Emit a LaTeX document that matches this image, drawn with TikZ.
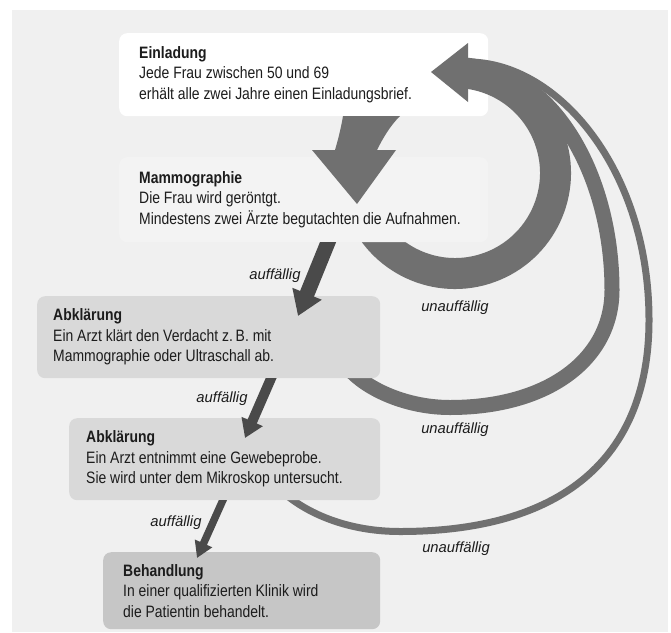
\documentclass[tikz,border=0pt]{standalone}
\usepackage{fontspec}
\setmainfont{Liberation Sans}[FakeStretch=0.845]
\newfontfamily\lblfont{Liberation Sans}
\usetikzlibrary{arrows.meta,calc}
\definecolor{bgc}{HTML}{F0F0F0}
\definecolor{arrc}{HTML}{707070}
\definecolor{darkc}{HTML}{4A4A4A}
\definecolor{abkc}{HTML}{D9D9D9}
\definecolor{behc}{HTML}{C6C6C6}
\definecolor{mamc}{HTML}{F3F3F3}
\definecolor{txtc}{HTML}{1C1C1C}
\begin{document}
\begin{tikzpicture}[x=1pt,y=-1pt,
  boxshape/.style={anchor=north west, rounded corners=8pt, inner sep=0pt},
  boxtext/.style={anchor=west, inner sep=0pt, align=left,
    font=\fontsize{16.5}{20.5}\selectfont, text=txtc},
  lbl/.style={font=\lblfont\itshape\fontsize{14.8}{16}\selectfont, text=txtc, inner sep=0pt},
  loopline/.style={draw=arrc},
  yesarrow/.style={draw=darkc}]
\useasboundingbox (0,0) rectangle (671,632);
\fill[white] (0,0) rectangle (671,632);
\fill[bgc] (12,10) rectangle (668,632);

% Einladung box
\node[boxshape, fill=white, minimum width=369pt, minimum height=83pt] (einl) at (119,33) {};
\node[boxtext] (einlT) at ($(einl.west)+(20,0)$) {\textbf{Einladung}\\Jede Frau zwischen 50 und 69\\erhält alle zwei Jahre einen Einladungsbrief.};

% return loops (unauffaellig)
\coordinate (lc) at (455,173);
\coordinate (tip) at (431,72);
\draw[loopline, line width=31pt] ($(lc)+(160:100.5)$) arc[start angle=160, end angle=-84, radius=100.5];
\draw[loopline, line width=15pt] (468,68) .. controls (548,68) and (612,170) .. (612,290)
  .. controls (612,360) and (547,407.5) .. (450,407.5) .. controls (410,407.5) and (372,392) .. (352,372);
\draw[loopline, line width=7pt] (468,62) .. controls (558,62) and (649,170) .. (649,320)
  .. controls (649,460) and (560,531.5) .. (400,531.5) .. controls (350,531.5) and (310,515) .. (285,494);
\fill[arrc] (tip) -- (468,43) -- (468,102) -- cycle;

% other boxes
\node[boxshape, fill=mamc, minimum width=369pt, minimum height=85pt] (mammo) at (119,157) {};
\node[boxtext] (mammoT) at ($(mammo.west)+(20,0)$) {\textbf{Mammographie}\\Die Frau wird geröntgt.\\Mindestens zwei Ärzte begutachten die Aufnahmen.};
\node[boxshape, fill=abkc, minimum width=343pt, minimum height=82pt] (abk1) at (37,296) {};
\node[boxtext] (abk1T) at ($(abk1.west)+(16,0)$) {\textbf{Abklärung}\\Ein Arzt klärt den Verdacht z.\,B. mit\\Mammographie oder Ultraschall ab.};
\node[boxshape, fill=abkc, minimum width=311pt, minimum height=82pt] (abk2) at (69,418) {};
\node[boxtext] (abk2T) at ($(abk2.west)+(17,0)$) {\textbf{Abklärung}\\Ein Arzt entnimmt eine Gewebeprobe.\\Sie wird unter dem Mikroskop untersucht.};
\node[boxshape, fill=behc, minimum width=277pt, minimum height=77pt] (beh) at (103,552) {};
\node[boxtext] (behT) at ($(beh.west)+(20,0)$) {\textbf{Behandlung}\\In einer qualifizierten Klinik wird\\die Patientin behandelt.};

% big arrow Einladung -> Mammographie
\fill[arrc] (343,116) .. controls (341,128) and (338,140) .. (335,150) -- (312,150) -- (357,204)
  -- (396,150) -- (377,150) .. controls (383,138) and (390,126) .. (400,116) -- cycle;

% auffaellig arrows
\coordinate (a1s) at (335,225); \coordinate (a1e) at (298,316);
\coordinate (a2s) at (279,360); \coordinate (a2e) at (245,438);
\coordinate (a3s) at (231,482); \coordinate (a3e) at (197,558);
\begin{scope}
  \clip (mammo.south west) rectangle (671,632);
  \draw[yesarrow, line width=15pt, -{Triangle[length=24pt,width=30pt]}] (a1s) -- (a1e);
\end{scope}
\begin{scope}
  \clip (abk1.south west) rectangle (671,632);
  \draw[yesarrow, line width=10pt, -{Triangle[length=18pt,width=22pt]}] (a2s) -- (a2e);
\end{scope}
\begin{scope}
  \clip (abk2.south west) rectangle (671,632);
  \draw[yesarrow, line width=7.5pt, -{Triangle[length=16pt,width=18pt]}] (a3s) -- (a3e);
\end{scope}

% labels
\node[lbl] (y1) at (275,276) {auffällig};
\node[lbl] (y2) at (222,399) {auffällig};
\node[lbl] (y3) at (176,523) {auffällig};
\node[lbl] (n1) at (455,308) {unauffällig};
\node[lbl] (n2) at (455,430) {unauffällig};
\node[lbl] (n3) at (456,549) {unauffällig};
\end{tikzpicture}
\end{document}
